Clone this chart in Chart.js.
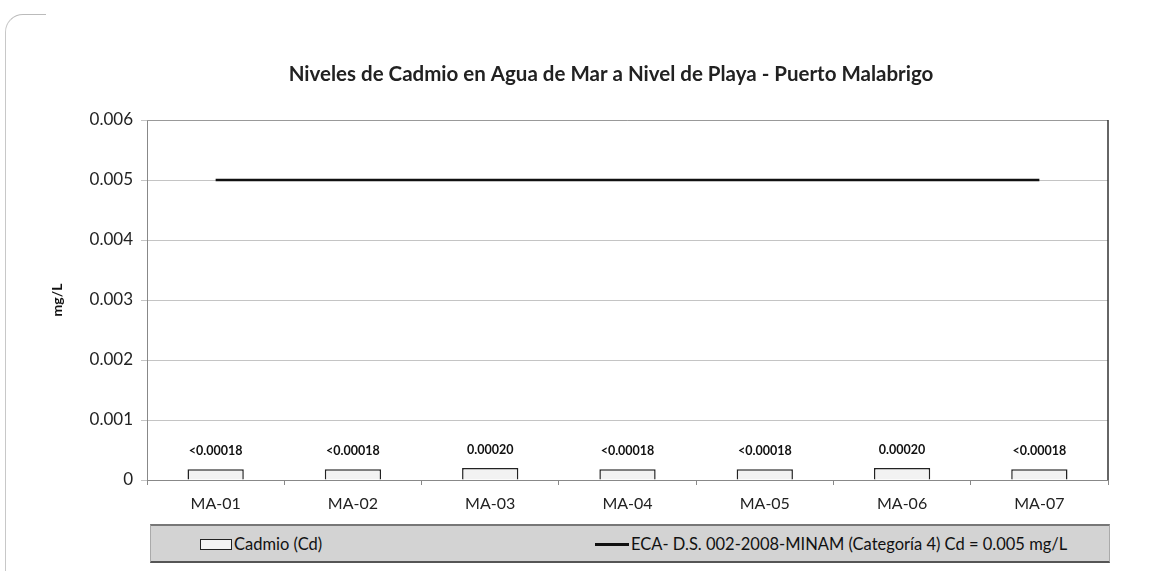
<!DOCTYPE html>
<html>
<head>
<meta charset="utf-8">
<script src="https://cdn.jsdelivr.net/npm/chart.js@4.4.0/dist/chart.umd.min.js"></script>
<style>
  html,body{margin:0;padding:0;background:#fff;}
  #wrap{position:relative;width:1154px;height:571px;overflow:hidden;}
  #frame{position:absolute;left:5px;top:14px;width:40px;height:600px;border-left:1px solid #c8c8c8;border-top:1px solid #c8c8c8;border-top-left-radius:18px;border-top-color:#bbb;}
  #legend{position:absolute;left:150px;top:524px;width:958px;height:35px;background:#d3d3d3;
    border-top:2px solid #777;border-bottom:2px solid #555;border-left:1px solid #aaa;border-right:1px solid #aaa;
    font-family:Lato,"Noto Sans",sans-serif;font-size:16.5px;color:#111;}
  .item{position:absolute;top:8px;display:flex;align-items:center;white-space:nowrap;}
  .sw-bar{width:30px;height:9px;border:1.5px solid #222;background:#f4f4f4;margin-right:2px;}
  .sw-line{width:34px;height:3px;background:#111;margin-right:2px;}
</style>
</head>
<body>
<div id="wrap">
  <div id="frame"></div>
  <canvas id="c" width="1154" height="571"></canvas>
  <div id="legend">
    <div class="item" style="left:49px"><span class="sw-bar"></span><span id="lg1"></span></div>
    <div class="item" style="left:444px"><span class="sw-line"></span><span id="lg2"></span></div>
  </div>
</div>
<script>
// data
const categories = ['MA-01','MA-02','MA-03','MA-04','MA-05','MA-06','MA-07'];
const cadmio = [0.00018, 0.00018, 0.00020, 0.00018, 0.00018, 0.00020, 0.00018];
const cadmioLabels = ['<0.00018','<0.00018','0.00020','<0.00018','<0.00018','0.00020','<0.00018'];
const eca = [0.005, 0.005, 0.005, 0.005, 0.005, 0.005, 0.005];
const yTickLabels = ['0','0.001','0.002','0.003','0.004','0.005','0.006'];
const seriesNames = ['Cadmio (Cd)', 'ECA- D.S. 002-2008-MINAM (Categoría 4) Cd = 0.005 mg/L'];
const titleText = 'Niveles de Cadmio en Agua de Mar a Nivel de Playa - Puerto Malabrigo';

const FONT = 'Lato, "Noto Sans", sans-serif';
document.getElementById('lg1').innerText = seriesNames[0];
document.getElementById('lg2').innerText = seriesNames[1];

// value labels above the bars
const barLabels = {
  id:'barLabels',
  afterDatasetsDraw(chart){
    const ctx = chart.ctx;
    const meta = chart.getDatasetMeta(1);
    ctx.save();
    ctx.font = 'bold 12.5px ' + FONT;
    ctx.fillStyle = '#111';
    ctx.textAlign = 'center';
    ctx.textBaseline = 'middle';
    meta.data.forEach((bar, i) => {
      ctx.fillText(cadmioLabels[i], bar.x, bar.y - 18);
    });
    ctx.restore();
  }
};

// plot area frame + title (title sits a bit right of the canvas centre)
const frame = {
  id:'frame',
  beforeDatasetsDraw(chart){
    const a = chart.chartArea, ctx = chart.ctx;
    ctx.save();
    ctx.lineWidth = 1;
    ctx.strokeStyle = '#999';
    ctx.beginPath(); ctx.moveTo(a.left, a.top + 0.5); ctx.lineTo(a.right, a.top + 0.5); ctx.stroke();
    ctx.strokeStyle = '#333';
    ctx.lineWidth = 1.5;
    ctx.beginPath(); ctx.moveTo(a.right, a.top); ctx.lineTo(a.right, a.bottom); ctx.stroke();
    ctx.font = 'bold 20.5px ' + FONT;
    ctx.fillStyle = '#222';
    ctx.textAlign = 'center';
    ctx.textBaseline = 'middle';
    ctx.fillText(titleText, 611, 74);
    ctx.restore();
  }
};

new Chart(document.getElementById('c').getContext('2d'), {
  data:{
    labels: categories,
    datasets:[
      { type:'line', label:seriesNames[1], data:eca, borderColor:'#111', borderWidth:2.5,
        pointRadius:0, fill:false, order:0 },
      { type:'bar', label:seriesNames[0], data:cadmio, backgroundColor:'#f2f2f2',
        borderColor:'#222', borderWidth:1.5, barPercentage:0.41, categoryPercentage:1, order:1 }
    ]
  },
  options:{
    responsive:false,
    animation:false,
    layout:{ padding:{ left:49, right:46, top:120, bottom:51 } },
    plugins:{
      legend:{ display:false },
      tooltip:{ enabled:false },
      title:{ display:false }
    },
    scales:{
      x:{
        offset:true,
        grid:{ offset:true, drawOnChartArea:false, tickLength:5, color:'#888' },
        border:{ color:'#888' },
        ticks:{ color:'#222', font:{ family:FONT, size:16 }, padding:9 },
        afterFit(s){ s.height = 40; }
      },
      y:{
        min:0, max:0.006,
        ticks:{ stepSize:0.001, color:'#222', font:{ family:FONT, size:17 }, padding:8,
          callback:(v, i) => yTickLabels[i] },
        grid:{ color:'#c4c4c4', tickLength:6 },
        border:{ color:'#888' },
        title:{ display:true, text:'mg/L', color:'#111', font:{ family:FONT, size:14, weight:'bold' }, padding:{ top:0, bottom:2 } },
        afterFit(s){ s.width = 98; }
      }
    }
  },
  plugins:[barLabels, frame]
});
</script>
</body>
</html>
